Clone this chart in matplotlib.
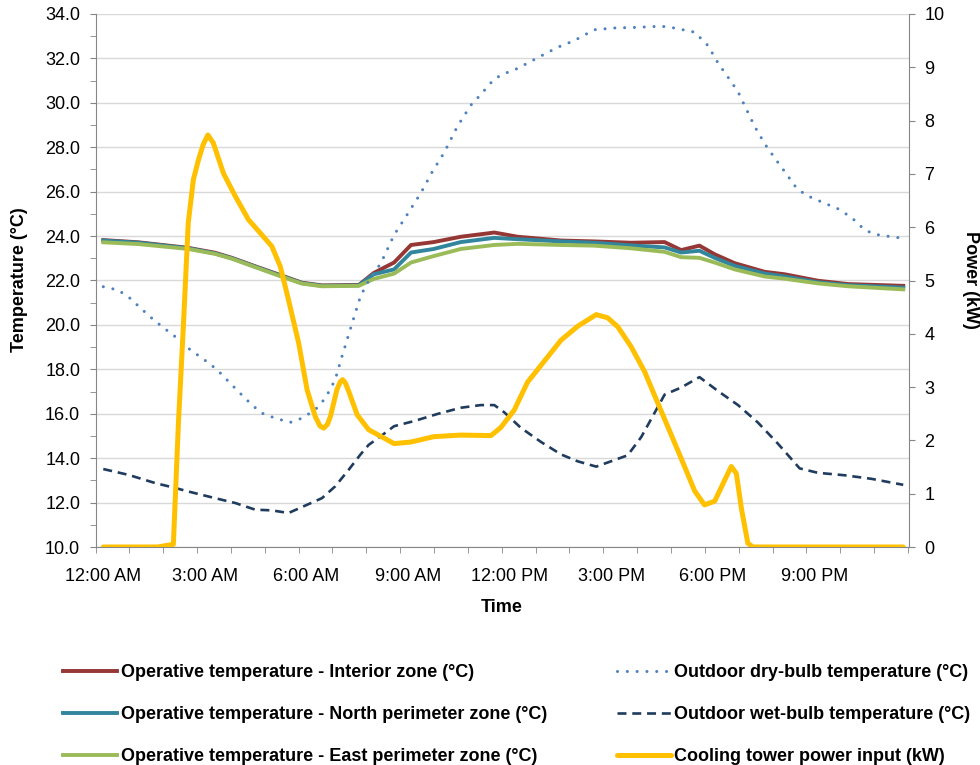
import matplotlib
matplotlib.use("Agg")
import matplotlib.pyplot as plt
import numpy as np

plt.rcParams['font.family'] = ['Liberation Sans', 'DejaVu Sans']

# hours after midnight
op_hours = [0, 1.04, 2.51, 3.3, 3.8, 4.49, 5.18, 5.87, 6.46, 7.55, 7.99, 8.59,
            9.09, 9.76, 10.56, 11.55, 12.24, 13.52, 14.5, 15.59, 16.58, 17.07,
            17.61, 18.06, 18.65, 19.54, 20.13, 21.11, 22.0, 23.63]
t_interior = [23.82, 23.72, 23.47, 23.25, 23.02, 22.64, 22.27, 21.9, 21.78, 21.8,
              22.34, 22.81, 23.6, 23.73, 23.97, 24.16, 23.97, 23.8, 23.76, 23.7,
              23.73, 23.37, 23.57, 23.18, 22.78, 22.39, 22.28, 21.99, 21.84, 21.76]
t_north = [23.8, 23.7, 23.45, 23.22, 23.0, 22.62, 22.25, 21.88, 21.76, 21.78,
           22.28, 22.5, 23.26, 23.42, 23.73, 23.92, 23.86, 23.76, 23.7, 23.58,
           23.49, 23.26, 23.34, 23.02, 22.66, 22.31, 22.18, 21.92, 21.79, 21.68]
t_east = [23.72, 23.64, 23.42, 23.2, 22.98, 22.6, 22.22, 21.86, 21.74, 21.76,
          22.07, 22.31, 22.81, 23.1, 23.42, 23.6, 23.65, 23.6, 23.57, 23.45,
          23.29, 23.05, 23.02, 22.81, 22.5, 22.18, 22.08, 21.87, 21.74, 21.6]

dry_hours = [0, 0.44, 0.79, 1.08, 1.38, 1.73, 2.22, 2.51, 3.01, 3.35, 3.7, 4.09,
             4.39, 4.68, 5.08, 5.52, 5.87, 6.26, 6.56, 6.85, 7.05, 7.35, 7.6,
             7.84, 8.2, 8.59, 8.99, 9.38, 9.72, 10.07, 10.46, 10.86, 11.15,
             11.55, 11.84, 12.24, 12.83, 13.42, 13.91, 14.5, 15.1, 15.79, 16.48,
             16.87, 17.47, 17.86, 18.16, 18.45, 18.75, 19.0, 19.24, 19.54,
             19.84, 20.13, 20.43, 20.73, 21.2, 21.7, 22.1, 22.49, 22.79, 23.28,
             23.63]
t_drybulb = [21.72, 21.57, 21.2, 20.79, 20.37, 19.93, 19.36, 18.95, 18.4, 18.0,
             17.45, 16.85, 16.4, 16.03, 15.8, 15.61, 15.8, 16.18, 16.7, 17.53,
             18.58, 20.07, 21.3, 22.0, 22.78, 24.05, 25.0, 25.94, 26.9, 27.76,
             28.94, 29.9, 30.37, 31.08, 31.31, 31.55, 32.03, 32.5, 32.8, 33.29,
             33.37, 33.4, 33.45, 33.37, 33.18, 32.58, 31.79, 31.16, 30.5, 29.7,
             28.94, 28.15, 27.5, 26.9, 26.26, 25.86, 25.55, 25.23, 24.84, 24.28,
             24.08, 23.97, 23.9]

wet_hours = [0, 0.74, 1.53, 2.12, 2.51, 3.3, 3.9, 4.49, 4.98, 5.47, 5.87, 6.46,
             6.85, 7.25, 7.6, 7.84, 8.1, 8.59, 9.18, 9.87, 10.56, 11.15, 11.55,
             11.84, 12.34, 12.93, 13.52, 14.01, 14.56, 15.0, 15.49, 15.89, 16.18,
             16.58, 17.07, 17.61, 18.16, 18.75, 19.34, 19.93, 20.57, 21.11, 21.9,
             22.69, 23.63]
t_wetbulb = [13.51, 13.25, 12.88, 12.66, 12.5, 12.2, 11.98, 11.68, 11.65, 11.53,
             11.8, 12.2, 12.73, 13.48, 14.17, 14.6, 14.88, 15.44, 15.67, 15.99,
             16.27, 16.39, 16.39, 16.07, 15.36, 14.73, 14.17, 13.86, 13.62, 13.86,
             14.13, 14.95, 15.75, 16.86, 17.18, 17.65, 17.02, 16.39, 15.6, 14.65,
             13.54, 13.34, 13.23, 13.07, 12.8]

tower_hours = [0, 1.6, 2.07, 2.22, 2.37, 2.51, 2.66, 2.81, 2.95, 3.09, 3.25, 3.55,
               3.9, 4.29, 4.68, 4.98, 5.23, 5.47, 5.77, 6.02, 6.26, 6.4, 6.51,
               6.62, 6.71, 6.9, 7.0, 7.07, 7.15, 7.25, 7.5, 7.84, 8.59, 9.09,
               9.76, 10.56, 11.45, 11.74, 12.14, 12.53, 13.03, 13.52, 14.01,
               14.56, 14.9, 15.2, 15.59, 15.99, 16.38, 16.78, 17.17, 17.47, 17.76,
               18.06, 18.3, 18.55, 18.7, 18.85, 19.04, 19.19, 23.63]
p_tower = [0, 0, 0.05, 2.33, 4.2, 6.08, 6.89, 7.26, 7.55, 7.73, 7.58, 7.01,
           6.58, 6.14, 5.86, 5.64, 5.26, 4.64, 3.83, 2.95, 2.45, 2.27, 2.23,
           2.3, 2.45, 2.95, 3.1, 3.14, 3.08, 2.92, 2.48, 2.2, 1.94, 1.97,
           2.07, 2.1, 2.09, 2.24, 2.57, 3.09, 3.49, 3.88, 4.14,
           4.36, 4.3, 4.13, 3.76, 3.29, 2.7, 2.1, 1.51, 1.05, 0.79,
           0.86, 1.18, 1.51, 1.38, 0.72, 0.07, 0, 0]

time_labels = ['12:00 AM', '3:00 AM', '6:00 AM', '9:00 AM',
               '12:00 PM', '3:00 PM', '6:00 PM', '9:00 PM']

grey = '#868686'

fig = plt.figure(figsize=(9.8, 7.65), dpi=100)
ax = fig.add_axes([95.5 / 980, 218 / 765, 813.5 / 980, 533 / 765])
ax2 = ax.twinx()

l1, = ax.plot(op_hours, t_interior, color='#953735', lw=2.8,
              label='Operative temperature - Interior zone (°C)')
l2, = ax.plot(op_hours, t_north, color='#31859C', lw=2.8,
              label='Operative temperature - North perimeter zone (°C)')
l3, = ax.plot(op_hours, t_east, color='#9BBB59', lw=2.8,
              label='Operative temperature - East perimeter zone (°C)')
l4, = ax.plot(dry_hours, t_drybulb, color='#4F81BD', lw=2.2,
              linestyle=(0, (0.01, 3.2)), dash_capstyle='round',
              label='Outdoor dry-bulb temperature (°C)')
l5, = ax.plot(wet_hours, t_wetbulb, color='#1F3B5E', lw=1.9,
              linestyle=(0, (3.4, 2.2)),
              label='Outdoor wet-bulb temperature (°C)')
l6, = ax2.plot(tower_hours, p_tower, color='#FFC000', lw=3.6,
               solid_capstyle='round', solid_joinstyle='round',
               label='Cooling tower power input (kW)')

ax.set_xlim(-0.23, 23.8)
ax.set_ylim(10, 34)
ax2.set_ylim(0, 10)

ax.set_yticks(np.arange(10, 34.1, 2))
ax.set_yticks(np.arange(11, 34, 2), minor=True)
ax.set_yticklabels(['%.1f' % v for v in np.arange(10, 34.1, 2)])
ax2.set_yticks(np.arange(0, 11, 1))

ax.set_xticks(np.arange(0, 22, 3))
ax.set_xticklabels(time_labels)
ax.set_xticks(np.arange(-0.23, 24, 1.0), minor=True)

ax.grid(axis='y', which='major', color='#D9D9D9', lw=1)
ax.set_axisbelow(True)

for a in (ax, ax2):
    for s in a.spines.values():
        s.set_color(grey)
    a.spines['top'].set_visible(False)
ax.spines['right'].set_visible(False)
ax2.spines['left'].set_visible(False)
ax2.spines['bottom'].set_visible(False)

ax.tick_params(axis='x', which='major', length=0, pad=15, labelsize=13)
ax.tick_params(axis='x', which='minor', length=4, color=grey, direction='out')
ax.tick_params(axis='y', which='both', length=4, color=grey, pad=7, labelsize=13)
ax2.tick_params(axis='y', length=4, color=grey, pad=7, labelsize=13)

bold = dict(fontsize=13, fontweight='bold')
fig.text(20 / 980, 1 - 280 / 765, 'Temperature (°C)', rotation=90,
         ha='center', va='center', **bold)
fig.text(970 / 980, 1 - 280 / 765, 'Power (kW)', rotation=270,
         ha='center', va='center', **bold)
fig.text(502 / 980, 1 - 608 / 765, 'Time', ha='center', va='center', **bold)

fig.legend(handles=[l1, l2, l3, l4, l5, l6], ncol=2, frameon=False,
           loc='upper left', bbox_to_anchor=(63 / 980, 1 - 664 / 765),
           borderaxespad=0, borderpad=0, handlelength=3.0, handletextpad=0.2,
           labelspacing=1.38, columnspacing=3.85,
           prop=dict(size=13, weight='bold'))

fig.savefig('out.png', dpi=100)
